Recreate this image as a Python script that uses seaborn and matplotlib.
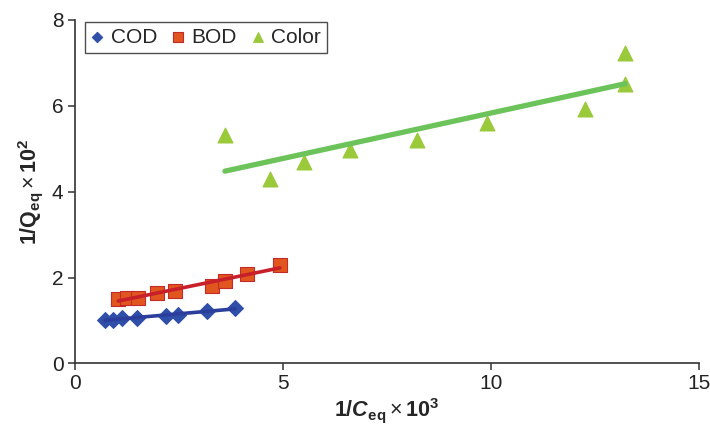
import matplotlib
matplotlib.use("Agg")
import matplotlib.pyplot as plt
import seaborn as sns
import pandas as pd

# Linearised isotherm data: 1/Ceq x 10^3 vs 1/Qeq x 10^2
cod_x = [0.73, 0.93, 1.13, 1.51, 2.19, 2.49, 3.18, 3.85]
cod_y = [1.02, 1.02, 1.05, 1.06, 1.11, 1.12, 1.22, 1.29]

bod_x = [1.05, 1.25, 1.53, 1.98, 2.42, 3.30, 3.61, 4.13, 4.93]
bod_y = [1.51, 1.53, 1.53, 1.63, 1.69, 1.81, 1.92, 2.09, 2.30]

color_x = [3.61, 4.70, 5.51, 6.62, 8.22, 9.89, 12.25, 13.22, 13.22]
color_y = [5.33, 4.30, 4.69, 4.98, 5.21, 5.59, 5.93, 7.24, 6.52]

series_names = ["COD", "BOD", "Color"]
x_ticks = [0, 5, 10, 15]
y_ticks = [0, 2, 4, 6, 8]

sns.set_style("ticks")
plt.rcParams['font.family'] = ['Liberation Sans', 'DejaVu Sans']
plt.rcParams['mathtext.fontset'] = 'custom'
plt.rcParams['mathtext.rm'] = 'Liberation Sans'
plt.rcParams['mathtext.it'] = 'Liberation Sans:italic'
plt.rcParams['mathtext.bf'] = 'Liberation Sans:bold'
plt.rcParams['mathtext.bfit'] = 'Liberation Sans:bold:italic'

fig = plt.figure(figsize=(7.1, 4.3), dpi=100)
ax = fig.add_axes([0.105, 0.155, 0.88, 0.7985])

styles = [
    (cod_x, cod_y, "D", "#2F4FA8", "#2F4FA8", "#2B3E9C", 2.6, 65),
    (bod_x, bod_y, "s", "#E0561E", "#C42A2A", "#C8202A", 2.6, 105),
    (color_x, color_y, "^", "#9AC93A", "#9AC93A", "#6CC35A", 3.8, 115),
]

for name, (xs, ys, mk, fc, ec, lc, lw, s) in zip(series_names, styles):
    df = pd.DataFrame({"x": xs, "y": ys})
    sns.scatterplot(data=df, x="x", y="y", marker=mk, s=s, color=fc,
                    edgecolor=ec, linewidth=0.8, label=name, ax=ax, zorder=2)
    sns.regplot(data=df, x="x", y="y", scatter=False, ci=None, truncate=True,
                line_kws=dict(color=lc, lw=lw, solid_capstyle="round"),
                ax=ax)

ax.set_xlim(0, 15)
ax.set_ylim(0, 8)
ax.set_xticks(x_ticks)
ax.set_yticks(y_ticks)
ax.tick_params(axis="both", labelsize=15, length=5, width=1.1, pad=3,
               color="#333333", labelcolor="#222222", direction="out")
for side in ("top", "right"):
    ax.spines[side].set_visible(False)
for side in ("left", "bottom"):
    ax.spines[side].set_linewidth(1.2)
    ax.spines[side].set_color("#333333")

ax.set_xlabel(r"$\mathbf{1/}\mathbfit{C}_{\mathbf{eq}}\times\mathbf{10^3}$",
              fontsize=15.5, labelpad=2)
ax.set_ylabel(r"$\mathbf{1/Q}_{\mathbf{eq}}\times\mathbf{10^2}$",
              fontsize=15.5, labelpad=5)

leg = ax.legend(loc="upper left", bbox_to_anchor=(0.016, 0.995), ncol=3,
                frameon=True, fancybox=False, edgecolor="#222222",
                fontsize=15, handlelength=0.6, handletextpad=0.35,
                columnspacing=0.7, borderpad=0.3, borderaxespad=0,
                markerscale=0.65)
leg.get_frame().set_linewidth(1.0)

fig.savefig("out.png", dpi=100)
